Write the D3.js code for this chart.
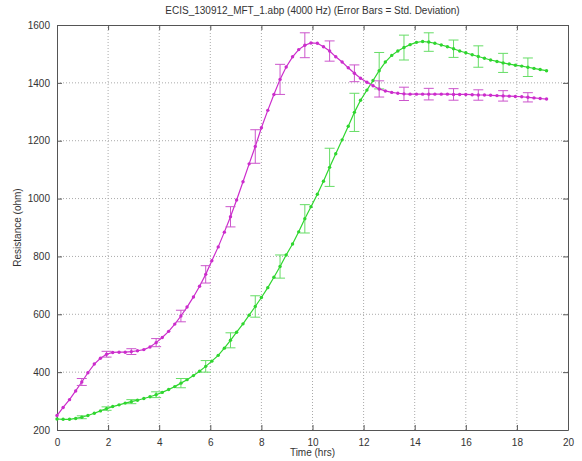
<!DOCTYPE html>
<html>
<head>
<meta charset="utf-8">
<script src="https://cdn.jsdelivr.net/npm/d3@7"></script>
<style>
  body { margin: 0; background: #fff; }
  svg { font-family: "Liberation Sans", Arial, sans-serif; }
</style>
</head>
<body>
<div id="chart"></div>
<script>
// sample times (hrs)
const hours = [0.00, 0.24, 0.49, 0.73, 0.97, 1.21, 1.46, 1.70, 1.94, 2.18,
  2.43, 2.67, 2.91, 3.15, 3.40, 3.64, 3.88, 4.12, 4.37, 4.61,
  4.85, 5.09, 5.34, 5.58, 5.82, 6.06, 6.31, 6.55, 6.79, 7.03,
  7.28, 7.52, 7.76, 8.00, 8.25, 8.49, 8.73, 8.97, 9.22, 9.46,
  9.70, 9.94, 10.19, 10.43, 10.67, 10.91, 11.16, 11.40, 11.64, 11.88,
  12.13, 12.37, 12.61, 12.85, 13.10, 13.34, 13.58, 13.82, 14.07, 14.31,
  14.55, 14.79, 15.04, 15.28, 15.52, 15.76, 16.00, 16.25, 16.49, 16.73,
  16.97, 17.22, 17.46, 17.70, 17.94, 18.19, 18.43, 18.67, 18.91, 19.16]

const magentaVals = [250, 278, 305, 335, 366, 398, 428, 448, 462, 468,
  469, 469, 471, 474, 478, 487, 502, 520, 541, 566,
  594, 625, 660, 697, 738, 785, 833, 884, 937, 995,
  1058, 1120, 1180, 1245, 1305, 1360, 1412, 1455, 1490, 1515,
  1530, 1538, 1537, 1525, 1510, 1490, 1472, 1452, 1433, 1416,
  1402, 1390, 1379, 1372, 1367, 1364, 1362, 1361, 1361, 1361,
  1361, 1361, 1361, 1361, 1360, 1360, 1360, 1359, 1358, 1358,
  1357, 1356, 1355, 1354, 1353, 1352, 1350, 1348, 1346, 1344]

const greenVals = [238, 237, 237, 240, 244, 250, 258, 266, 274, 281,
  287, 293, 298, 303, 309, 315, 322, 330, 340, 350,
  362, 374, 388, 403, 420, 438, 458, 483, 510, 538,
  567, 597, 627, 658, 692, 728, 765, 805, 843, 885,
  930, 972, 1015, 1060, 1108, 1155, 1203, 1250, 1298, 1340,
  1375, 1408, 1442, 1472, 1495, 1510, 1522, 1532, 1540, 1543,
  1541, 1537, 1531, 1525, 1518, 1510, 1504, 1497, 1491, 1485,
  1479, 1474, 1469, 1465, 1461, 1458, 1454, 1450, 1446, 1442]

// std. deviation, shown on every 4th sample
const errIndex = [4, 8, 12, 16, 20, 24, 28, 32, 36, 40, 44, 48, 52, 56, 60, 64, 68, 72, 76]
const magentaErr = [12, 10, 10, 14, 20, 30, 35, 58, 52, 43, 35, 29, 28, 23, 20, 20, 18, 18, 16]
const greenErr = [5, 6, 7, 10, 16, 20, 26, 37, 40, 49, 66, 66, 63, 43, 32, 30, 37, 33, 32]

const xTicks = [0, 2, 4, 6, 8, 10, 12, 14, 16, 18, 20]
const yTicks = [200, 400, 600, 800, 1000, 1200, 1400, 1600]

const w = 582, h = 461
const margin = { top: 25, right: 14, bottom: 31, left: 57 }

const svg = d3.select('#chart')
  .append('svg')
  .attr('width', w)
  .attr('height', h)

const x = d3.scaleLinear().domain([0, 20]).range([margin.left, w - margin.right])
const y = d3.scaleLinear().domain([200, 1600]).range([h - margin.bottom, margin.top])

// grid
svg.append('g')
  .selectAll('line')
  .data(xTicks.slice(1, -1))
  .enter()
  .append('line')
  .attr('x1', d => x(d)).attr('x2', d => x(d))
  .attr('y1', y(200)).attr('y2', y(1600))
  .attr('stroke', '#aaa')
  .attr('stroke-width', 1)
  .attr('stroke-dasharray', '1,2')

svg.append('g')
  .selectAll('line')
  .data(yTicks.slice(1, -1))
  .enter()
  .append('line')
  .attr('x1', x(0)).attr('x2', x(20))
  .attr('y1', d => y(d)).attr('y2', d => y(d))
  .attr('stroke', '#aaa')
  .attr('stroke-width', 1)
  .attr('stroke-dasharray', '1,2')

// axes (ticks pointing in, matlab style)
const fmt = d3.format('d')
svg.append('g')
  .attr('transform', `translate(0,${y(200)})`)
  .call(d3.axisBottom(x).tickValues(xTicks).tickFormat(fmt).tickSizeInner(-5).tickSizeOuter(0).tickPadding(9))
svg.append('g')
  .attr('transform', `translate(0,${y(1600)})`)
  .call(d3.axisTop(x).tickValues(xTicks).tickFormat('').tickSizeInner(-5).tickSizeOuter(0))
svg.append('g')
  .attr('transform', `translate(${x(0)},0)`)
  .call(d3.axisLeft(y).tickValues(yTicks).tickFormat(fmt).tickSizeInner(-5).tickSizeOuter(0).tickPadding(7))
svg.append('g')
  .attr('transform', `translate(${x(20)},0)`)
  .call(d3.axisRight(y).tickValues(yTicks).tickFormat('').tickSizeInner(-5).tickSizeOuter(0))

svg.selectAll('.domain').attr('stroke', '#555')
svg.selectAll('.tick line').attr('stroke', '#555')
svg.selectAll('.tick text').attr('fill', '#333').style('font-size', '10px')

// series
const series = [
  { vals: greenVals, err: greenErr, color: '#2fd62f', errColor: '#66dd66' },
  { vals: magentaVals, err: magentaErr, color: '#cc2ccc', errColor: '#cc55cc' }
]

const line = d3.line()
  .x((d, i) => x(hours[i]))
  .y(d => y(d))
  .curve(d3.curveLinear)

series.forEach(s => {
  const g = svg.append('g')

  g.append('path')
    .datum(s.vals)
    .attr('d', line)
    .attr('fill', 'none')
    .attr('stroke', s.color)
    .attr('stroke-width', 1.2)

  const bars = g.selectAll('.err')
    .data(errIndex)
    .enter()
    .append('g')
    .attr('stroke', s.errColor)
    .attr('stroke-width', 1)

  bars.append('line')
    .attr('x1', d => x(hours[d])).attr('x2', d => x(hours[d]))
    .attr('y1', (d, j) => y(s.vals[d] - s.err[j]))
    .attr('y2', (d, j) => y(s.vals[d] + s.err[j]))
  bars.append('line')
    .attr('x1', d => x(hours[d]) - 5).attr('x2', d => x(hours[d]) + 5)
    .attr('y1', (d, j) => y(s.vals[d] - s.err[j]))
    .attr('y2', (d, j) => y(s.vals[d] - s.err[j]))
  bars.append('line')
    .attr('x1', d => x(hours[d]) - 5).attr('x2', d => x(hours[d]) + 5)
    .attr('y1', (d, j) => y(s.vals[d] + s.err[j]))
    .attr('y2', (d, j) => y(s.vals[d] + s.err[j]))

  g.selectAll('circle')
    .data(s.vals)
    .enter()
    .append('circle')
    .attr('cx', (d, i) => x(hours[i]))
    .attr('cy', d => y(d))
    .attr('r', 1.7)
    .attr('fill', s.color)
})

// labels
svg.append('text')
  .attr('x', (x(0) + x(20)) / 2)
  .attr('y', 14)
  .attr('text-anchor', 'middle')
  .attr('fill', '#333')
  .style('font-size', '10px')
  .text('ECIS_130912_MFT_1.abp (4000 Hz) (Error Bars = Std. Deviation)')

svg.append('text')
  .attr('x', (x(0) + x(20)) / 2)
  .attr('y', 456)
  .attr('text-anchor', 'middle')
  .attr('fill', '#333')
  .style('font-size', '10px')
  .text('Time (hrs)')

svg.append('text')
  .attr('transform', `translate(21,${(y(200) + y(1600)) / 2}) rotate(-90)`)
  .attr('text-anchor', 'middle')
  .attr('fill', '#333')
  .style('font-size', '10px')
  .text('Resistance (ohm)')
</script>
</body>
</html>
